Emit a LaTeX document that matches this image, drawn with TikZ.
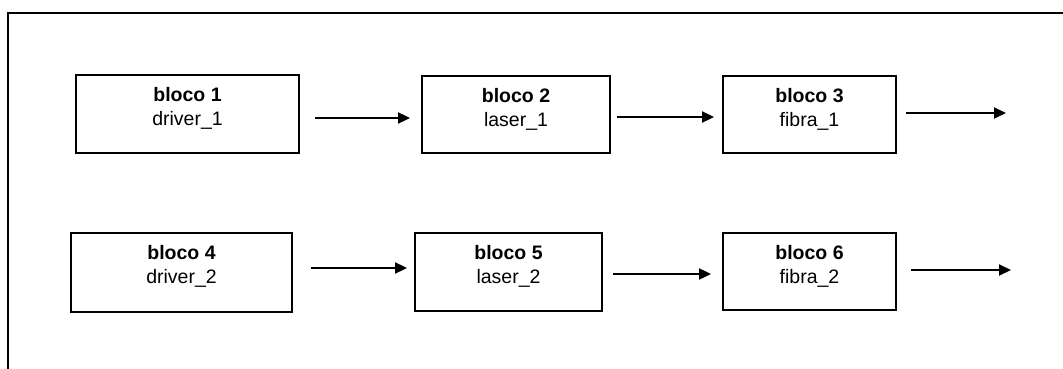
\documentclass[tikz,border=0pt]{standalone}
\usepackage{fontspec}
\setmainfont{Liberation Sans}
\usetikzlibrary{arrows.meta}
\begin{document}
\begin{tikzpicture}[x=1pt,y=-1pt,
  blockbox/.style={draw, line width=1.9pt, rectangle, inner sep=0pt},
  blocktext/.style={anchor=north, align=center, inner sep=0pt, font=\fontsize{19.5}{24}\selectfont},
  arr/.style={line width=2pt, -{Triangle[length=12pt,width=11pt]}},
  frameline/.style={line width=2pt}]
\useasboundingbox (0,0) rectangle (1063,369);
\draw[frameline] (8,370) -- (8,13) -- (1064,13);
% row 1
\node[blockbox, minimum width=223pt, minimum height=78pt] (b1) at (187.5,114) {};
\node[blockbox, minimum width=188pt, minimum height=77pt] (b2) at (516,114.5) {};
\node[blockbox, minimum width=173pt, minimum height=77pt] (b3) at (809.5,114.5) {};
% row 2
\node[blockbox, minimum width=221pt, minimum height=79pt] (b4) at (181.5,272.5) {};
\node[blockbox, minimum width=187pt, minimum height=78pt] (b5) at (508.5,272) {};
\node[blockbox, minimum width=173pt, minimum height=77pt] (b6) at (809.5,271.5) {};
% texts
\node[blocktext] (t1) at ([yshift=-13pt]b1.north) {\textbf{bloco 1}\\driver\_1};
\node[blocktext] (t2) at ([yshift=-13pt]b2.north) {\textbf{bloco 2}\\laser\_1};
\node[blocktext] (t3) at ([yshift=-13pt]b3.north) {\textbf{bloco 3}\\fibra\_1};
\node[blocktext] (t4) at ([yshift=-13pt]b4.north) {\textbf{bloco 4}\\driver\_2};
\node[blocktext] (t5) at ([yshift=-13pt]b5.north) {\textbf{bloco 5}\\laser\_2};
\node[blocktext] (t6) at ([yshift=-13pt]b6.north) {\textbf{bloco 6}\\fibra\_2};
% free ends
\coordinate (e3) at (1006,113);
\coordinate (e6) at (1011,270);
% arrows
\draw[arr] ([xshift=15pt,yshift=-4pt]b1.east) -- ([xshift=-11pt,yshift=-3.5pt]b2.west);
\draw[arr] ([xshift=6pt,yshift=-2.5pt]b2.east) -- ([xshift=-8pt,yshift=-2.5pt]b3.west);
\draw[arr] ([xshift=9pt,yshift=1.5pt]b3.east) -- (e3);
\draw[arr] ([xshift=18pt,yshift=4.5pt]b4.east) -- ([xshift=-7pt,yshift=4pt]b5.west);
\draw[arr] ([xshift=10pt,yshift=-2pt]b5.east) -- ([xshift=-11pt,yshift=-2.5pt]b6.west);
\draw[arr] ([xshift=14pt,yshift=1.5pt]b6.east) -- (e6);
\end{tikzpicture}
\end{document}
